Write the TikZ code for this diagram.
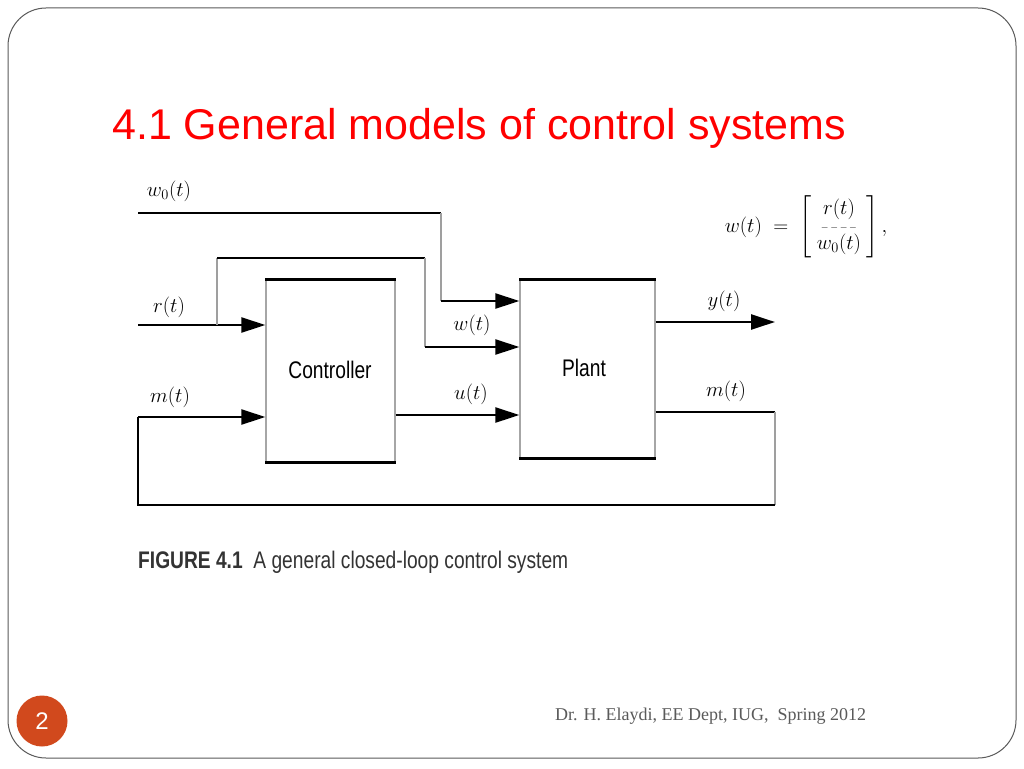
\documentclass[tikz,border=0pt]{standalone}
\usepackage{amsmath}
\usepackage{fontspec}
\setmainfont{Liberation Serif}
\newfontfamily\titlefont{Liberation Sans}
\newfontfamily\narrowfont[FakeStretch=0.80]{Liberation Sans}
\usetikzlibrary{arrows.meta,positioning}
\definecolor{badge}{RGB}{209,73,29}
\definecolor{frame}{RGB}{90,90,90}
\tikzset{wire/.style={black,line width=2.6pt},
         vwire/.style={gray!75,line width=2pt},
         sig/.style={wire,-{Triangle[length=24pt,width=15pt]}},
         blk/.style={draw=gray!70,line width=1.4pt,inner sep=0pt},
         lbl/.style={inner sep=1pt,font=\fontsize{20}{20}\selectfont}}

\begin{document}
\begin{tikzpicture}[x=1pt,y=-1pt]
   \useasboundingbox[fill=white] (0,0) rectangle (1024,768);
   \draw[frame,line width=1pt,rounded corners=38pt] (8,8) rectangle (1016,758);
   \node[anchor=base west,text=red,inner sep=0pt,font=\titlefont\fontsize{43}{43}\selectfont]
        (title) at (112,139) {4.1 General models of control systems};
   % blocks
   \node[blk,minimum width=129pt,minimum height=182pt] (ctrl)  at (330.5,371) {};
   \node[blk,minimum width=135pt,minimum height=178pt] (plant) at (587.5,369) {};
   \node[font=\narrowfont\fontsize{24}{24}\selectfont] (ctrltxt)  at (330,370) {Controller};
   \node[font=\narrowfont\fontsize{24}{24}\selectfont] (planttxt) at (584,368) {Plant};
   \foreach \b in {ctrl,plant}{
     \draw[wire] (\b.north west) -- (\b.north east);
     \draw[wire] (\b.south west) -- (\b.south east);
   }
   \coordinate (w0a) at (138,213);
   \coordinate (w0b) at (441,213);
   \coordinate (w0c) at (441,301);
   \coordinate (ra)  at (138,325);
   \coordinate (rb)  at (217,325);
   \coordinate (rc)  at (217,258);
   \coordinate (rd)  at (425,258);
   \coordinate (re)  at (425,347);
   \coordinate (ma)  at (138,417);
   \coordinate (mb)  at (138,505);
   \coordinate (mc)  at (775,505);
   \coordinate (md)  at (775,412);
   \coordinate (ye)  at (775,322);
   \coordinate (ua)  at (395,415);
   % signals
   \draw[wire] (w0a) -- (w0b);
   \draw[vwire] (w0b) -- (w0c);
   \draw[sig] (w0c) -- (w0c -| plant.west);
   \draw[sig] (ra) -- (ra -| ctrl.west);
   \draw[vwire] (rb) -- (rc);
   \draw[wire] (rc) -- (rd);
   \draw[vwire] (rd) -- (re);
   \draw[sig] (re) -- (re -| plant.west);
   \draw[sig] (ua -| ctrl.east) -- (ua -| plant.west);
   \draw[sig] (ye -| plant.east) -- (ye);
   \draw[wire] (md -| plant.east) -- (md);
   \draw[vwire] (md) -- (mc);
   \draw[wire] (mc) -- (mb) -- (ma);
   \draw[sig] (ma) -- (ma -| ctrl.west);
   % labels
   \node[lbl] (lw0) at (169,191) {$w_0(t)$};
   \node[lbl] (lr)  at (169,307) {$r(t)$};
   \node[lbl] (lw)  at (472,325) {$w(t)$};
   \node[lbl] (lm)  at (170,397) {$m(t)$};
   \node[lbl] (lu)  at (471,394) {$u(t)$};
   \node[lbl] (ly)  at (724,301) {$y(t)$};
   \node[lbl] (lm2) at (726,391) {$m(t)$};
   \node[font=\fontsize{20}{20}\selectfont] (eq) at (806,227)
        {$w(t)\;=\;\left[\begin{array}{c} r(t)\\[-4pt] \scriptscriptstyle -\,-\,-\,-\\[-2pt] w_0(t)\end{array}\right],$};
   \node[anchor=base west,inner sep=0pt,text=black!80,font=\narrowfont\fontsize{24}{24}\selectfont]
        (cap) at (138,568) {\textbf{FIGURE 4.1}\ \ A general closed-loop control system};
   % footer
   \node[circle,fill=badge,minimum size=51pt,inner sep=0pt,text=white,
         font=\titlefont\fontsize{24}{24}\selectfont] (pg) at (42,721) {2};
   \node[anchor=base west,inner sep=0pt,text=frame,font=\fontsize{18}{18}\selectfont]
        (foot) at (555,720) {Dr. H. Elaydi, EE Dept, IUG,\ \ Spring 2012};
\end{tikzpicture}
\end{document}
